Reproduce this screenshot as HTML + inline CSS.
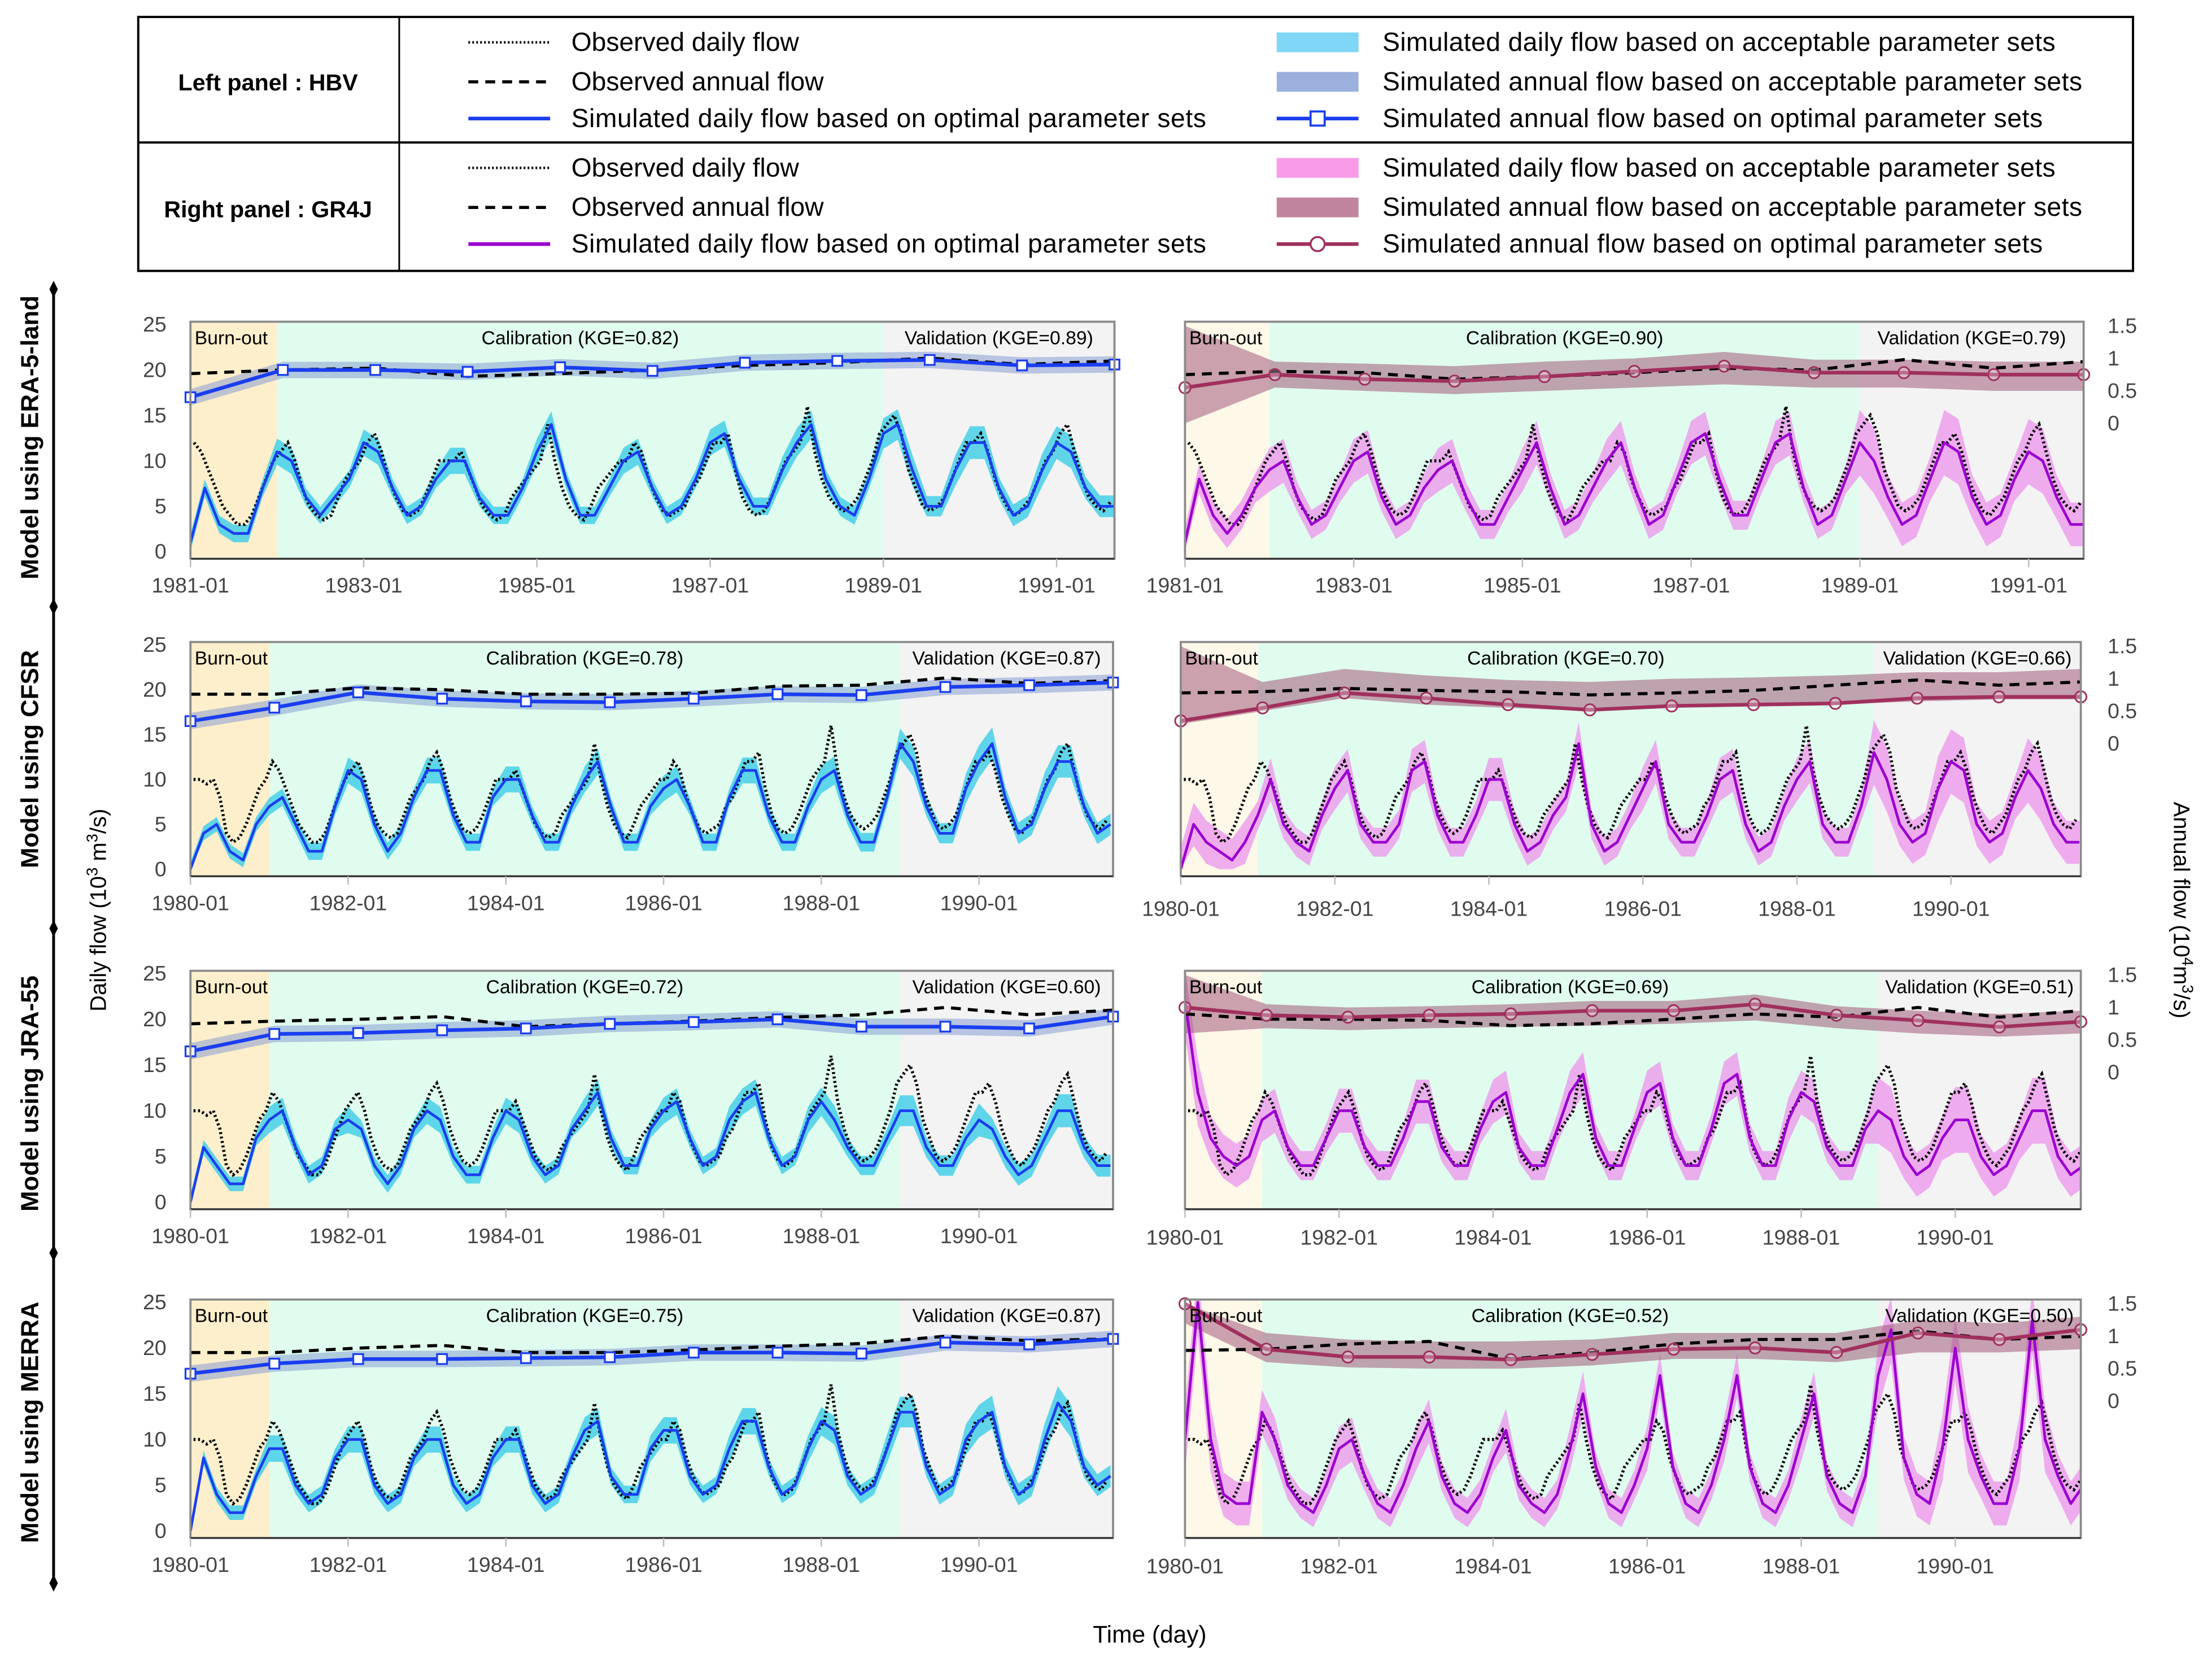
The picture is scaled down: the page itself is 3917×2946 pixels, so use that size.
<!DOCTYPE html>
<html><head><meta charset="utf-8"><style>
html,body{margin:0;padding:0;background:#fff}
svg{display:block}
text{font-family:"Liberation Sans",sans-serif}
</style></head><body>
<svg id="fig" width="3917" height="2946" viewBox="0 0 1568 1179.3" preserveAspectRatio="none" xmlns="http://www.w3.org/2000/svg">
<rect x="0" y="0" width="1568" height="1180" fill="#fff"/>
<g>
<rect x="98" y="12" width="1414" height="180" fill="none" stroke="#000" stroke-width="1.6"/>
<line x1="98" y1="101" x2="1512" y2="101" stroke="#000" stroke-width="1.6"/>
<line x1="283" y1="12" x2="283" y2="192" stroke="#000" stroke-width="1.2"/>
<text x="190" y="64" font-size="16.5" font-weight="bold" text-anchor="middle">Left panel : HBV</text>
<text x="190" y="154" font-size="16.5" font-weight="bold" text-anchor="middle">Right panel : GR4J</text>
<g font-size="18.5">
<line x1="332" y1="30" x2="390" y2="30" stroke="#000" stroke-width="1.8" stroke-dasharray="1.2 1.6"/>
<text x="405" y="36">Observed daily flow</text>
<line x1="332" y1="58" x2="390" y2="58" stroke="#000" stroke-width="2.2" stroke-dasharray="7 5"/>
<text x="405" y="64">Observed annual flow</text>
<line x1="332" y1="84" x2="390" y2="84" stroke="#1a3ef0" stroke-width="2.6"/>
<text x="405" y="90" textLength="450">Simulated daily flow based on optimal parameter sets</text>
<rect x="905" y="23" width="58" height="14" fill="#7fd6f7"/>
<text x="980" y="36" textLength="477">Simulated daily flow based on acceptable parameter sets</text>
<rect x="905" y="51" width="58" height="14" fill="#9bb0dd"/>
<text x="980" y="64" textLength="496">Simulated annual flow based on acceptable parameter sets</text>
<line x1="905" y1="84" x2="963" y2="84" stroke="#1a3ef0" stroke-width="2.6"/>
<rect x="929" y="79" width="10" height="10" fill="#fff" stroke="#1a3ef0" stroke-width="1.5"/>
<text x="980" y="90" textLength="468">Simulated annual flow based on optimal parameter sets</text>
<line x1="332" y1="119" x2="390" y2="119" stroke="#000" stroke-width="1.8" stroke-dasharray="1.2 1.6"/>
<text x="405" y="125">Observed daily flow</text>
<line x1="332" y1="147" x2="390" y2="147" stroke="#000" stroke-width="2.2" stroke-dasharray="7 5"/>
<text x="405" y="153">Observed annual flow</text>
<line x1="332" y1="173" x2="390" y2="173" stroke="#9b00d0" stroke-width="2.6"/>
<text x="405" y="179" textLength="450">Simulated daily flow based on optimal parameter sets</text>
<rect x="905" y="112" width="58" height="14" fill="#f99be6"/>
<text x="980" y="125" textLength="477">Simulated daily flow based on acceptable parameter sets</text>
<rect x="905" y="140" width="58" height="14" fill="#c0849e"/>
<text x="980" y="153" textLength="496">Simulated annual flow based on acceptable parameter sets</text>
<line x1="905" y1="173" x2="963" y2="173" stroke="#a0305e" stroke-width="2.6"/>
<circle cx="934" cy="173" r="5" fill="#fff" stroke="#a0305e" stroke-width="1.4"/>
<text x="980" y="179" textLength="468">Simulated annual flow based on optimal parameter sets</text>
</g></g>
<g>
<line x1="38" y1="205" x2="38" y2="1122" stroke="#000" stroke-width="2"/>
<path d="M38 199 l3 6 l-3 6 l-3 -6z M38 424 l3 6 l-3 6 l-3 -6z M38 652 l3 6 l-3 6 l-3 -6z M38 882 l3 6 l-3 6 l-3 -6z M38 1116 l3 6 l-3 6 l-3 -6z" fill="#000"/>
<text transform="translate(27,310) rotate(-90)" font-size="17.5" font-weight="bold" text-anchor="middle">Model using ERA-5-land</text>
<text transform="translate(27,538) rotate(-90)" font-size="17.5" font-weight="bold" text-anchor="middle">Model using CFSR</text>
<text transform="translate(27,775) rotate(-90)" font-size="17.5" font-weight="bold" text-anchor="middle">Model using JRA-55</text>
<text transform="translate(27,1008) rotate(-90)" font-size="17.5" font-weight="bold" text-anchor="middle">Model using MERRA</text>
</g>
<text transform="translate(75,645) rotate(-90)" font-size="16" text-anchor="middle">Daily flow (10<tspan dy="-6" font-size="11">3</tspan><tspan dy="6"> m</tspan><tspan dy="-6" font-size="11">3</tspan><tspan dy="6">/s)</tspan></text>
<text transform="translate(1541,645) rotate(90)" font-size="16" text-anchor="middle">Annual flow (10<tspan dy="-6" font-size="11">4</tspan><tspan dy="6">m</tspan><tspan dy="-6" font-size="11">3</tspan><tspan dy="6">/s)</tspan></text>
<text x="815" y="1164" font-size="17" text-anchor="middle">Time (day)</text>
<g id="panels"></g>
</svg>
<script>
// Observed daily flow, monthly means from 1980-01 (10^3 m3/s)
const obsMonthly = [
10,10,9.5,10,8,4,3,3.5,5,7,9,10,
12,11,9,7,5,4,3,3,4,6,8,10,
11,12,10,7,5,4,3.5,4,6,8,9,10,
12,13,11,8,6,4.5,4,4.5,6,8,10,10,
10,11,9,7,5,4,3.5,4,6,7,8,9,
10,14,10,7,5,4,3.5,5,7,8,9,10,
10,12,11,8,6,4.5,4,4.5,5,7,8,10,
12,12,13,9,6,4.5,4,4.5,6,8,10,11,
12,16,11,8,6,5,4.5,5,6,8,10,13,
14,15,13,9,7,5,4.5,5,6,8,10,12,
12,13,11,8,6,4.5,4,5,6,8,10,11,
13,14,11,8,6,5,4.5,5.5];
// Simulated daily flow (bimonthly)
const simHbvEra = [1,7,3,2,2,7, 11,10,6,4,6,8, 12,11,7,4,5,8, 10,10,6,4,4,7, 11,14,8,4,4,7, 10,11,7,4,5,8, 12,13,8,5,5,9, 12,14,8,5,4,8, 13,14,9,5,5,9, 12,12,7,4,5,9, 12,11,7,5,5];
const simGrEra = [1,8,4,2,4,7, 9,10,6,3,4,7, 10,11,6,3,4,7, 9,10,6,3,3,6, 9,12,7,3,4,7, 10,12,7,3,4,8, 12,13,8,4,4,8, 12,13,7,3,4,8, 12,10,6,3,4,8, 12,11,6,3,4,8, 11,10,6,3,3];
const simHbvCfsr = [0,4,5,2,1,5, 7,8,5,2,2,7, 11,10,5,2,4,8, 11,11,6,3,3,8, 10,10,6,3,3,7, 10,12,7,3,3,7, 9,10,7,3,3,8, 11,11,6,3,3,7, 10,11,6,3,3,8, 14,12,7,4,4,9, 12,14,8,4,5,9, 12,12,7,4,5];
const simGrCfsr = [0,5,3,2,1,3, 6,10,5,3,2,6, 9,11,5,3,3,5, 11,12,6,3,3,6, 10,10,5,2,3,6, 8,14,5,2,3,6, 9,12,5,3,3,6, 10,11,5,2,3,7, 10,12,5,3,3,7, 13,10,5,3,4,9, 12,11,5,3,4,8, 11,9,5,3,3];
const simHbvJra = [0,6,4,2,2,7, 9,10,6,3,4,8, 9,8,4,2,4,8, 10,9,5,3,3,7, 10,9,5,3,4,8, 10,12,7,4,4,8, 10,11,7,4,5,9, 11,12,7,4,5,9, 11,9,6,4,4,7, 10,10,6,4,4,7, 9,8,5,3,4,7, 10,10,6,4,4];
const simGrJra = [22,12,7,5,4,5, 9,10,6,4,4,7, 10,10,6,4,4,7, 11,11,6,4,4,8, 11,12,6,4,4,8, 12,14,7,4,4,8, 12,13,7,4,4,8, 13,14,7,4,4,9, 12,11,6,4,4,8, 10,9,5,3,4,7, 9,9,5,3,4,7, 10,10,5,3,4];
const simHbvMerra = [0,8,4,2,2,6, 9,9,5,3,4,8, 10,10,5,3,4,8, 10,10,5,3,4,8, 10,10,5,3,4,8, 11,12,6,4,4,9, 11,11,6,4,5,9, 12,12,7,4,5,9, 12,11,6,4,5,9, 13,13,7,4,5,10, 12,13,7,4,5,10, 14,12,7,5,6];
const simGrMerra = [10,25,10,4,3,3, 13,10,5,3,2,5, 9,10,6,3,2,5, 9,12,6,3,2,4, 8,11,5,3,2,4, 9,15,7,3,2,5, 9,17,7,3,2,5, 10,17,7,3,2,5, 10,15,6,3,2,6, 17,22,8,4,3,9, 20,10,6,3,3,9, 23,10,6,3,5];
// Half-width of acceptable-set daily band per year
const bandHbv = [1,1.2,1.2,1.2,1.2,1.2,1.2,1.2,1.3,1.4,1.5,1.5];
const bandGr = [3,2,2,2,2,2,2,2,2,3,3,3];
// Annual flows (HBV on daily axis; GR4J on annual axis 10^4 m3/s)
const annSimHbvEra = [17,20,20,19.8,20.3,19.9,20.8,21,21.1,20.5,20.6];
const annObsEra = [19.6,20,20.2,19.3,19.6,20,20.5,20.8,21.3,20.6,21];
const annSimGrEra = [0.55,0.75,0.68,0.65,0.72,0.8,0.88,0.78,0.78,0.75,0.75];
const annObsGrEra = [0.75,0.8,0.78,0.68,0.72,0.78,0.85,0.82,0.98,0.85,0.95];
const annLoGrEra = [0.0,0.55,0.5,0.45,0.5,0.55,0.6,0.55,0.55,0.5,0.5];
const annHiGrEra = [1.5,0.95,0.92,0.88,0.95,1.0,1.1,0.98,0.98,0.95,0.95];
const annSimHbvCfsr = [16.5,18,19.7,19,18.7,18.6,19,19.5,19.4,20.3,20.5,20.8];
const annObsCfsr = [19.5,19.5,20.2,20,19.5,19.5,19.6,20.4,20.5,21.3,20.7,21];
const annSimGrCfsr = [0.35,0.55,0.78,0.7,0.6,0.52,0.58,0.6,0.62,0.7,0.72,0.72];
const annObsGrCfsr = [0.78,0.8,0.85,0.82,0.8,0.75,0.78,0.82,0.9,0.98,0.9,0.95];
const annLoGrCfsr = [0.3,0.5,0.7,0.6,0.55,0.5,0.55,0.6,0.6,0.65,0.68,0.68];
const annHiGrCfsr = [1.5,0.95,1.15,1.05,0.98,0.95,1.0,1.02,1.05,1.1,1.1,1.15];
const annSimHbvJra = [16.5,18.4,18.5,18.8,19,19.5,19.7,20,19.2,19.2,19,20.3];
const annObsJra = [19.5,19.8,20,20.3,19.2,19.5,19.8,20.2,20.5,21.3,20.5,21];
const annSimGrJra = [1.0,0.88,0.85,0.88,0.9,0.95,0.95,1.05,0.88,0.8,0.7,0.78];
const annObsGrJra = [0.9,0.82,0.82,0.8,0.72,0.75,0.82,0.9,0.85,1.0,0.85,0.95];
const annLoGrJra = [0.6,0.68,0.65,0.68,0.7,0.72,0.75,0.8,0.68,0.6,0.55,0.6];
const annHiGrJra = [1.5,1.05,1.0,1.02,1.05,1.1,1.1,1.2,1.02,0.95,0.9,0.95];
const annSimHbvMerra = [17.2,18.3,18.8,18.8,18.9,19,19.5,19.5,19.4,20.6,20.4,21];
const annObsMerra = [19.5,19.5,20,20.3,19.5,19.5,19.8,20.2,20.5,21.3,20.8,21];
const annSimGrMerra = [1.5,0.8,0.68,0.68,0.64,0.72,0.8,0.82,0.75,1.05,0.95,1.1];
const annObsGrMerra = [0.78,0.8,0.88,0.92,0.65,0.75,0.88,0.95,0.95,1.08,0.95,1.0];
const annLoGrMerra = [1.2,0.6,0.52,0.5,0.5,0.55,0.65,0.65,0.6,0.75,0.75,0.8];
const annHiGrMerra = [1.5,1.05,0.95,0.92,0.92,0.95,1.05,1.05,1.05,1.25,1.2,1.3];
const tickYearsOdd = [1981,1983,1985,1987,1989,1991];
const tickYearsEven = [1980,1982,1984,1986,1988,1990];
const dailyTicks = [0,5,10,15,20,25];
const annualTicks = [0,0.5,1,1.5];
const kgeLabels = [["0.82","0.89"],["0.90","0.79"],["0.78","0.87"],["0.70","0.66"],["0.72","0.60"],["0.69","0.51"],["0.75","0.87"],["0.52","0.50"]];
</script>
<script>
const NS="http://www.w3.org/2000/svg";
const root=document.getElementById('panels');
function mk(tag,attrs,parent){const e=document.createElementNS(NS,tag);for(const k in attrs)e.setAttribute(k,attrs[k]);(parent||root).appendChild(e);return e;}
const rows=[{yTop:230,yZero:391,lab:415,labR:415,yA0:300,t0:1981,ticks:tickYearsOdd,
  L:{x0:135,x1:790,ppy:61.4,sim:simHbvEra,annSim:annSimHbvEra,annObs:annObsEra},
  R:{x0:840,x1:1477,ppy:59.8,sim:simGrEra,annSim:annSimGrEra,annObs:annObsGrEra,lo:annLoGrEra,hi:annHiGrEra}},
 {yTop:457,yZero:616,lab:640,labR:644,yA0:527,t0:1980,ticks:tickYearsEven,
  L:{x0:135,x1:789,ppy:55.9,sim:simHbvCfsr,annSim:annSimHbvCfsr,annObs:annObsCfsr},
  R:{x0:837,x1:1475,ppy:54.6,sim:simGrCfsr,annSim:annSimGrCfsr,annObs:annObsGrCfsr,lo:annLoGrCfsr,hi:annHiGrCfsr}},
 {yTop:690,yZero:852,lab:876,labR:877,yA0:760,t0:1980,ticks:tickYearsEven,
  L:{x0:135,x1:789,ppy:55.9,sim:simHbvJra,annSim:annSimHbvJra,annObs:annObsJra},
  R:{x0:840,x1:1475,ppy:54.6,sim:simGrJra,annSim:annSimGrJra,annObs:annObsGrJra,lo:annLoGrJra,hi:annHiGrJra}},
 {yTop:923,yZero:1085,lab:1109,labR:1110,yA0:993,t0:1980,ticks:tickYearsEven,
  L:{x0:135,x1:789,ppy:55.9,sim:simHbvMerra,annSim:annSimHbvMerra,annObs:annObsMerra},
  R:{x0:840,x1:1475,ppy:54.6,sim:simGrMerra,annSim:annSimGrMerra,annObs:annObsGrMerra,lo:annLoGrMerra,hi:annHiGrMerra}}];
const pts=a=>a.map(p=>p[0].toFixed(1)+','+p[1].toFixed(1)).join(' ');
rows.forEach((row,ri)=>{
 ['L','R'].forEach((side,si)=>{
  const p=row[side], isL=side==='L';
  const g=mk('g',{});
  
  
  const X=t=>p.x0+(t-row.t0)*p.ppy;
  const Y=v=>row.yZero-v*(row.yZero-row.yTop)/25;
  const YA=v=>row.yA0-v*46;
  const top=row.yTop-2, bot=row.yZero+5;
  const cid='clip'+ri+side;
  const cp=mk('clipPath',{id:cid},g); mk('rect',{x:p.x0,y:top,width:p.x1-p.x0,height:bot-top},cp);
  const tB=row.t0+1, tC=1989;
  const b1=mk('rect',{x:p.x0,y:top,width:X(tB)-p.x0,height:bot-top,fill:isL?'#fdefcc':'#fdf8e8'},g);
  
  
  const b2=mk('rect',{x:X(tB),y:top,width:X(tC)-X(tB),height:bot-top,fill:'#e0fcee'},g);
  
  
  const b3=mk('rect',{x:X(tC),y:top,width:p.x1-X(tC),height:bot-top,fill:'#f3f3f3'},g);
  
  
  const cg=mk('g',{'clip-path':'url(#'+cid+')'},g);
  const bw=isL?bandHbv:bandGr, hi=[],lo=[],sl=[];
  p.sim.forEach((v,j)=>{const t=row.t0+j/6, yi=Math.min(11,Math.floor(t-1980));const w=bw[yi]*(v>8?1.2:0.8);
   hi.push([X(t),Y(v+w)]);lo.push([X(t),Y(Math.max(0,v-w))]);sl.push([X(t),Y(v)]);});
  const band=mk('polygon',{points:pts(hi.concat(lo.reverse())),fill:isL?'#45cfe8':'#ec9aec','fill-opacity':isL?0.85:0.8},cg);
  
  
  const n=p.annSim.length, ax=i=>p.x0+i*(p.x1-p.x0)/(n-1);
  let ahi,alo;
  if(isL){ahi=p.annSim.map((v,i)=>[ax(i),Y(v+0.9)]);alo=p.annSim.map((v,i)=>[ax(i),Y(v-0.9)]);}
  else{ahi=p.hi.map((v,i)=>[ax(i),YA(v)]);alo=p.lo.map((v,i)=>[ax(i),YA(v)]);}
  const ab=mk('polygon',{points:pts(ahi.concat(alo.slice().reverse())),fill:isL?'#7d95cf':'#a05a7a','fill-opacity':isL?0.5:0.55},cg);
  
  
  const op=[];obsMonthly.forEach((v,i)=>{const t=1980+i/12+0.04;if(t>=row.t0)op.push([X(t),Y(v)]);});
  const ol=mk('polyline',{points:pts(op),fill:'none',stroke:'#000','stroke-width':2.2,'stroke-dasharray':'1.4 1.8'},cg);
  
  
  const sln=mk('polyline',{points:pts(sl),fill:'none',stroke:isL?'#1a3ef0':'#9b00d0','stroke-width':1.9,'stroke-linejoin':'round'},cg);
  
  
  const aop=p.annObs.map((v,i)=>[ax(i),isL?Y(v):YA(v)]);
  const aol=mk('polyline',{points:pts(aop),fill:'none',stroke:'#000','stroke-width':2.2,'stroke-dasharray':'7 5'},cg);
  
  
  const asp=p.annSim.map((v,i)=>[ax(i),isL?Y(v):YA(v)]);
  const asl=mk('polyline',{points:pts(asp),fill:'none',stroke:isL?'#1a3ef0':'#a0305e','stroke-width':2.6},cg);
  
  
  asp.forEach(q=>{let m;
   if(isL)m=mk('rect',{x:q[0]-3.5,y:q[1]-3.5,width:7,height:7,fill:'#fff',stroke:'#1a3ef0','stroke-width':1.3},g);
   else m=mk('circle',{cx:q[0],cy:q[1],r:4,fill:'#fff','fill-opacity':0.3,stroke:'#a0305e','stroke-width':1.2},g);
   
   });
  mk('rect',{x:p.x0,y:top,width:p.x1-p.x0,height:bot-top,fill:'none',stroke:'#8a8a8a','stroke-width':1.5},g);
  mk('line',{x1:p.x0,y1:bot,x2:p.x1,y2:bot,stroke:'#333','stroke-width':1.2},g);
  const tl=[['Burn-out',p.x0+3,'start'],['Calibration (KGE='+kgeLabels[ri*2+si][0]+')',(X(tB)+X(tC))/2,'middle'],['Validation (KGE='+kgeLabels[ri*2+si][1]+')',(X(tC)+p.x1)/2,'middle']];
  tl.forEach(a=>{const t=mk('text',{x:a[1],y:top+16,'font-size':13.5,'text-anchor':a[2]},g);t.textContent=a[0];
   
   });
  row.ticks.forEach(yr=>{const x=X(yr);
   mk('line',{x1:x,y1:bot,x2:x,y2:bot+6,stroke:'#bbb','stroke-width':1},g);
   const t=mk('text',{x:x,y:(isL?row.lab:row.labR)+5,'font-size':15,'text-anchor':'middle',fill:'#444'},g);
   t.textContent=yr+'-01';
   
   });
  if(isL){dailyTicks.forEach(v=>{const t=mk('text',{x:118,y:Y(v)+5,'font-size':15,'text-anchor':'end',fill:'#444'},g);t.textContent=v;
   
   });}
  else{annualTicks.forEach(v=>{const t=mk('text',{x:1494,y:YA(v)+5,'font-size':15,fill:'#444'},g);t.textContent=v;
   
   });}
 });
});
</script>
</body></html>
